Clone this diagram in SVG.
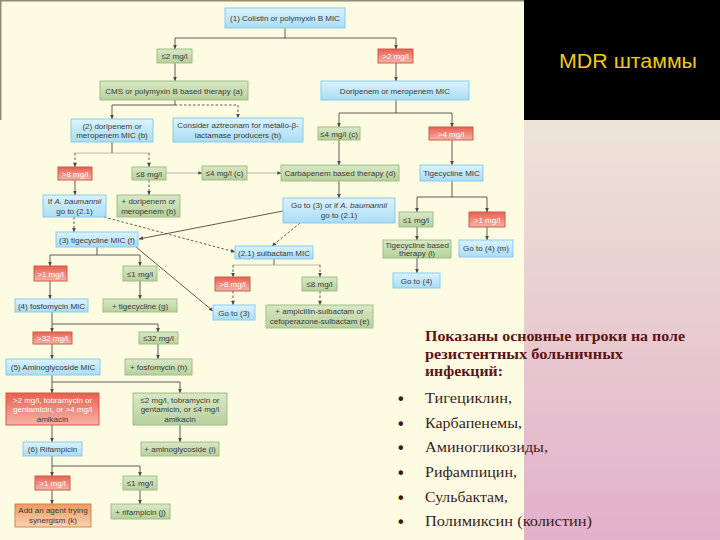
<svg xmlns="http://www.w3.org/2000/svg" width="720" height="540" viewBox="0 0 720 540">
<defs>
<linearGradient id="gB" x1="0" y1="0" x2="0" y2="1"><stop offset="0" stop-color="#dcf3fe"/><stop offset="1" stop-color="#aadcf5"/></linearGradient>
<linearGradient id="gG" x1="0" y1="0" x2="0" y2="1"><stop offset="0" stop-color="#d9e8c6"/><stop offset="1" stop-color="#b7d09c"/></linearGradient>
<linearGradient id="gR" x1="0" y1="0" x2="0" y2="1"><stop offset="0" stop-color="#e8604f"/><stop offset="1" stop-color="#f4b4a8"/></linearGradient>
<linearGradient id="gO" x1="0" y1="0" x2="0" y2="1"><stop offset="0" stop-color="#ee9a5e"/><stop offset="1" stop-color="#f8d2b4"/></linearGradient>
<linearGradient id="gP" x1="0" y1="0" x2="0" y2="1"><stop offset="0" stop-color="#ede4d8"/><stop offset="0.5" stop-color="#e8cbd0"/><stop offset="1" stop-color="#e2b0ca"/></linearGradient>
<marker id="ar" viewBox="0 0 6 6" refX="5.5" refY="3" markerWidth="5" markerHeight="5" orient="auto"><path d="M0,0.5 L6,3 L0,5.5 z" fill="#4a4a4a"/></marker>
<style>
.b{fill:url(#gB);stroke:#86cbee;stroke-width:1}
.g{fill:url(#gG);stroke:#9fbe84;stroke-width:1}
.r{fill:url(#gR);stroke:#cf5a4a;stroke-width:1}
.o{fill:url(#gO);stroke:#d9824c;stroke-width:1}
.t{font-family:"Liberation Sans",Arial,sans-serif;font-size:8px;fill:#3a3a3a;text-anchor:middle}
.tw{font-family:"Liberation Sans",Arial,sans-serif;font-size:8px;fill:#ffffff;text-anchor:middle}
.c{fill:none;stroke:#4a4a4a;stroke-width:0.9}
.ca{fill:none;stroke:#4a4a4a;stroke-width:0.9;marker-end:url(#ar)}
.cl{fill:none;stroke:#a8a8a0;stroke-width:0.8}
.cla{fill:none;stroke:#a8a8a0;stroke-width:0.8;marker-end:url(#ar)}
.d{fill:none;stroke:#4a4a4a;stroke-width:0.9;stroke-dasharray:2.5,2}
.da{fill:none;stroke:#4a4a4a;stroke-width:0.9;stroke-dasharray:2.5,2;marker-end:url(#ar)}
.hd{font-family:"Liberation Serif","DejaVu Serif",serif;font-size:14px;font-weight:bold;fill:#5e1414}
.li{font-family:"Liberation Serif","DejaVu Serif",serif;font-size:15px;fill:#3a1c1c}
.bu{font-family:"Liberation Sans",sans-serif;font-size:16px;font-weight:bold;fill:#4a1010}
</style>
</defs>
<rect x="0" y="0" width="720" height="540" fill="#fdfce3"/>
<rect x="0" y="0" width="524" height="1.5" fill="#8d8d78"/>
<rect x="0" y="0" width="1.5" height="120" fill="#8d8d78"/>
<rect x="524" y="120" width="196" height="420" fill="url(#gP)"/>
<rect x="524" y="0" width="196" height="120" fill="#000000"/>
<text x="559" y="68" font-family="'Liberation Sans',Arial,sans-serif" font-size="21" fill="#f2c81a" textLength="138" lengthAdjust="spacingAndGlyphs">MDR штаммы</text>

<g id="connectors">
<path class="c" d="M285,28 V38 M175,38 H396"/>
<path class="ca" d="M175,38 V49"/>
<path class="ca" d="M396,38 V49"/>
<path class="ca" d="M175,63 V81"/>
<path class="ca" d="M396,63 V81"/>
<path class="ca" d="M175,100 V105 H112 V119"/>
<path class="da" d="M175,105 H238 V118"/>
<path class="c" d="M396,100 V113 H339 M396,113 H452"/>
<path class="ca" d="M339,113 V127"/>
<path class="ca" d="M452,113 V127"/>
<path class="ca" d="M339,140 V165"/>
<path class="ca" d="M452,140 V165"/>
<path class="c" d="M112,142 V153"/>
<path class="cl" d="M75,153 H149"/>
<path class="da" d="M75,153 V167"/>
<path class="da" d="M149,153 V167"/>
<path class="cla" d="M166,173 H202"/>
<path class="cla" d="M247,173 H281"/>
<path class="ca" d="M75,180 V195"/>
<path class="da" d="M149,180 V195"/>
<path class="da" d="M74,217 V232"/>
<path class="da" d="M104,217 L235,252"/>
<path class="ca" d="M339,181 V198"/>
<path class="ca" d="M283,211 L139,239"/>
<path class="da" d="M300,223 L272,246"/>
<path class="ca" d="M136,247 L213,311"/>
<path class="c" d="M97,247 V255 H50 M97,255 H140"/>
<path class="ca" d="M50,255 V266"/>
<path class="ca" d="M140,255 V266"/>
<path class="ca" d="M50,281 V299"/>
<path class="ca" d="M140,281 V299"/>
<path class="c" d="M52,312 V324 H158"/>
<path class="ca" d="M52,324 V332"/>
<path class="ca" d="M158,324 V332"/>
<path class="ca" d="M52,344 V359"/>
<path class="ca" d="M158,344 V359"/>
<path class="c" d="M52,375 V382 H180"/>
<path class="ca" d="M52,382 V393"/>
<path class="ca" d="M180,382 V393"/>
<path class="ca" d="M52,425 V442"/>
<path class="ca" d="M180,425 V442"/>
<path class="c" d="M52,456 V466 H140"/>
<path class="ca" d="M52,466 V476"/>
<path class="ca" d="M140,466 V476"/>
<path class="ca" d="M52,490 V504"/>
<path class="ca" d="M140,490 V504"/>
<path class="c" d="M274,259 V265"/>
<path class="cl" d="M233,265 H320"/>
<path class="da" d="M233,265 V277"/>
<path class="da" d="M320,265 V277"/>
<path class="da" d="M233,291 V305"/>
<path class="da" d="M320,291 V305"/>
<path class="c" d="M452,181 V197 H417 M452,197 H487"/>
<path class="ca" d="M417,197 V212"/>
<path class="ca" d="M487,197 V212"/>
<path class="ca" d="M417,227 V240"/>
<path class="ca" d="M487,227 V240"/>
<path class="ca" d="M417,258 V273"/>
</g>

<g id="n1"><rect class="b" x="225" y="8" width="120" height="20"/><text class="t" x="285" y="21">(1) Colistin or polymyxin B MIC</text></g>
<g id="n_le2"><rect class="g" x="157" y="49" width="35" height="14"/><text class="t" x="174.5" y="59">≤2 mg/l</text></g>
<g id="n_gt2"><rect class="r" x="378" y="49" width="35" height="14"/><text class="tw" x="395.5" y="59">&gt;2 mg/l</text></g>
<g id="n_cms"><rect class="g" x="100" y="81" width="148" height="19"/><text class="t" x="174" y="93.5">CMS or polymyxin B based therapy (a)</text></g>
<g id="n_dori"><rect class="b" x="321" y="81" width="148" height="19"/><text class="t" x="395" y="93.5">Doripenem or meropenem MIC</text></g>
<g id="n2"><rect class="b" x="71" y="119" width="82" height="23"/><text class="t" x="112" y="128.5">(2) doripenem or</text><text class="t" x="112" y="138">meropenem MIC (b)</text></g>
<g id="n_azt"><rect class="b" x="173" y="118" width="130" height="24"/><text class="t" x="238" y="128">Consider aztreonam for metallo-β-</text><text class="t" x="238" y="138">lactamase producers (b)</text></g>
<g id="n_le4c"><rect class="g" x="318" y="127" width="42" height="13"/><text class="t" x="339" y="136.5">≤4 mg/l (c)</text></g>
<g id="n_gt4"><rect class="r" x="429" y="127" width="44" height="13"/><text class="tw" x="451" y="136.5">&gt;4 mg/l</text></g>
<g id="n_gt8a"><rect class="r" x="58" y="167" width="34" height="13"/><text class="tw" x="75" y="176.5">&gt;8 mg/l</text></g>
<g id="n_le8a"><rect class="g" x="132" y="167" width="34" height="13"/><text class="t" x="149" y="176.5">≤8 mg/l</text></g>
<g id="n_le4c2"><rect class="g" x="202" y="166" width="45" height="14"/><text class="t" x="224.5" y="176">≤4 mg/l (c)</text></g>
<g id="n_carb"><rect class="g" x="281" y="165" width="118" height="16"/><text class="t" x="340" y="176">Carbapenem based therapy (d)</text></g>
<g id="n_tigmic"><rect class="b" x="420" y="165" width="63" height="16"/><text class="t" x="451.5" y="176">Tigecycline MIC</text></g>
<g id="n_ifab"><rect class="b" x="43" y="195" width="63" height="22"/><text class="t" x="74.5" y="204">If <tspan font-style="italic">A. baumannii</tspan></text><text class="t" x="74.5" y="213.5">go to (2.1)</text></g>
<g id="n_pdori"><rect class="g" x="117" y="195" width="63" height="22"/><text class="t" x="148.5" y="204">+ doripenem or</text><text class="t" x="148.5" y="213.5">meropenem (b)</text></g>
<g id="n_goto3ab"><rect class="b" x="283" y="198" width="112" height="25"/><text class="t" x="339" y="208">Go to (3) or  if <tspan font-style="italic">A. baumannii</tspan></text><text class="t" x="339" y="218">go to (2.1)</text></g>
<g id="n_le1t"><rect class="g" x="399" y="212" width="34" height="15"/><text class="t" x="416" y="222.5">≤1 mg/l</text></g>
<g id="n_gt1t"><rect class="r" x="469" y="212" width="36" height="15"/><text class="tw" x="487" y="222.5">&gt;1 mg/l</text></g>
<g id="n3"><rect class="b" x="56" y="232" width="82" height="15"/><text class="t" x="97" y="242.5">(3) tigecycline MIC (f)</text></g>
<g id="n_tigbased"><rect class="g" x="383" y="240" width="68" height="18"/><text class="t" x="417" y="247.5">Tigecycline based</text><text class="t" x="417" y="256">therapy (l)</text></g>
<g id="n_goto4m"><rect class="b" x="459" y="240" width="54" height="17"/><text class="t" x="486" y="251">Go to (4) (m)</text></g>
<g id="n21"><rect class="b" x="235" y="246" width="78" height="13"/><text class="t" x="274" y="255.5">(2.1) sulbactam MIC</text></g>
<g id="n_gt1a"><rect class="r" x="34" y="266" width="33" height="15"/><text class="tw" x="50.5" y="276.5">&gt;1 mg/l</text></g>
<g id="n_le1a"><rect class="g" x="123" y="266" width="34" height="15"/><text class="t" x="140" y="276.5">≤1 mg/l</text></g>
<g id="n_goto4"><rect class="b" x="393" y="273" width="47" height="15"/><text class="t" x="416.5" y="283.5">Go to (4)</text></g>
<g id="n_gt8b"><rect class="r" x="215" y="277" width="35" height="14"/><text class="tw" x="232.5" y="287">&gt;8 mg/l</text></g>
<g id="n_le8b"><rect class="g" x="302" y="277" width="35" height="14"/><text class="t" x="319.5" y="287">≤8 mg/l</text></g>
<g id="n4"><rect class="b" x="15" y="299" width="73" height="13"/><text class="t" x="51.5" y="308.5">(4) fosfomycin MIC</text></g>
<g id="n_ptig"><rect class="g" x="103" y="299" width="74" height="13"/><text class="t" x="140" y="308.5">+ tigecycline (g)</text></g>
<g id="n_goto3"><rect class="b" x="213" y="305" width="42" height="15"/><text class="t" x="234" y="315.5">Go to (3)</text></g>
<g id="n_pamp"><rect class="g" x="266" y="305" width="107" height="23"/><text class="t" x="319.5" y="314">+ ampicillin-sulbactam or</text><text class="t" x="319.5" y="324">cefoperazone-sulbactam (e)</text></g>
<g id="n_gt32"><rect class="r" x="33" y="332" width="39" height="12"/><text class="tw" x="52.5" y="341">&gt;32 mg/l</text></g>
<g id="n_le32"><rect class="g" x="139" y="332" width="39" height="12"/><text class="t" x="158.5" y="341">≤32 mg/l</text></g>
<g id="n5"><rect class="b" x="6" y="359" width="94" height="16"/><text class="t" x="53" y="370">(5) Aminoglycoside MIC</text></g>
<g id="n_pfos"><rect class="g" x="125" y="359" width="67" height="16"/><text class="t" x="158.5" y="370">+ fosfomycin (h)</text></g>
<g id="n_amr"><rect class="r" x="6" y="393" width="93" height="32"/><text class="tw" x="52.5" y="402.5">&gt;2 mg/l, tobramycin or</text><text class="tw" x="52.5" y="412">gentamicin, or &gt;4 mg/l</text><text class="t" x="52.5" y="421.5">amikacin</text></g>
<g id="n_amg"><rect class="g" x="133" y="393" width="94" height="32"/><text class="t" x="180" y="402.5">≤2 mg/l, tobramycin or</text><text class="t" x="180" y="412">gentamicin, or ≤4 mg/l</text><text class="t" x="180" y="421.5">amikacin</text></g>
<g id="n6"><rect class="b" x="23" y="442" width="59" height="14"/><text class="t" x="52.5" y="452">(6) Rifampicin</text></g>
<g id="n_pami"><rect class="g" x="141" y="442" width="78" height="14"/><text class="t" x="180" y="452">+ aminoglycoside (i)</text></g>
<g id="n_gt1r"><rect class="r" x="35" y="476" width="35" height="14"/><text class="tw" x="52.5" y="486">&gt;1 mg/l</text></g>
<g id="n_le1r"><rect class="g" x="123" y="476" width="34" height="14"/><text class="t" x="140" y="486">≤1 mg/l</text></g>
<g id="n_add"><rect class="o" x="15" y="504" width="76" height="23"/><text class="t" x="53" y="513">Add an agent trying</text><text class="t" x="53" y="523">synergism (k)</text></g>
<g id="n_prif"><rect class="g" x="111" y="504" width="59" height="15"/><text class="t" x="140.5" y="514.5">+ rifampicin (j)</text></g>

<g id="list">
<text class="hd" x="425" y="341" textLength="260" lengthAdjust="spacingAndGlyphs">Показаны основные игроки на поле</text>
<text class="hd" x="425" y="359" textLength="198" lengthAdjust="spacingAndGlyphs">резистентных больничных</text>
<text class="hd" x="425" y="376" textLength="78" lengthAdjust="spacingAndGlyphs">инфекций:</text>
<text class="bu" x="398" y="404">•</text><text class="li" x="425" y="403" textLength="87" lengthAdjust="spacingAndGlyphs">Тигециклин,</text>
<text class="bu" x="398" y="429">•</text><text class="li" x="425" y="428" textLength="97" lengthAdjust="spacingAndGlyphs">Карбапенемы,</text>
<text class="bu" x="398" y="453">•</text><text class="li" x="425" y="452" textLength="123" lengthAdjust="spacingAndGlyphs">Аминогликозиды,</text>
<text class="bu" x="398" y="478">•</text><text class="li" x="425" y="477" textLength="92" lengthAdjust="spacingAndGlyphs">Рифампицин,</text>
<text class="bu" x="398" y="503">•</text><text class="li" x="425" y="502" textLength="83" lengthAdjust="spacingAndGlyphs">Сульбактам,</text>
<text class="bu" x="398" y="527">•</text><text class="li" x="425" y="526" textLength="167" lengthAdjust="spacingAndGlyphs">Полимиксин (колистин)</text>
</g>
</svg>
